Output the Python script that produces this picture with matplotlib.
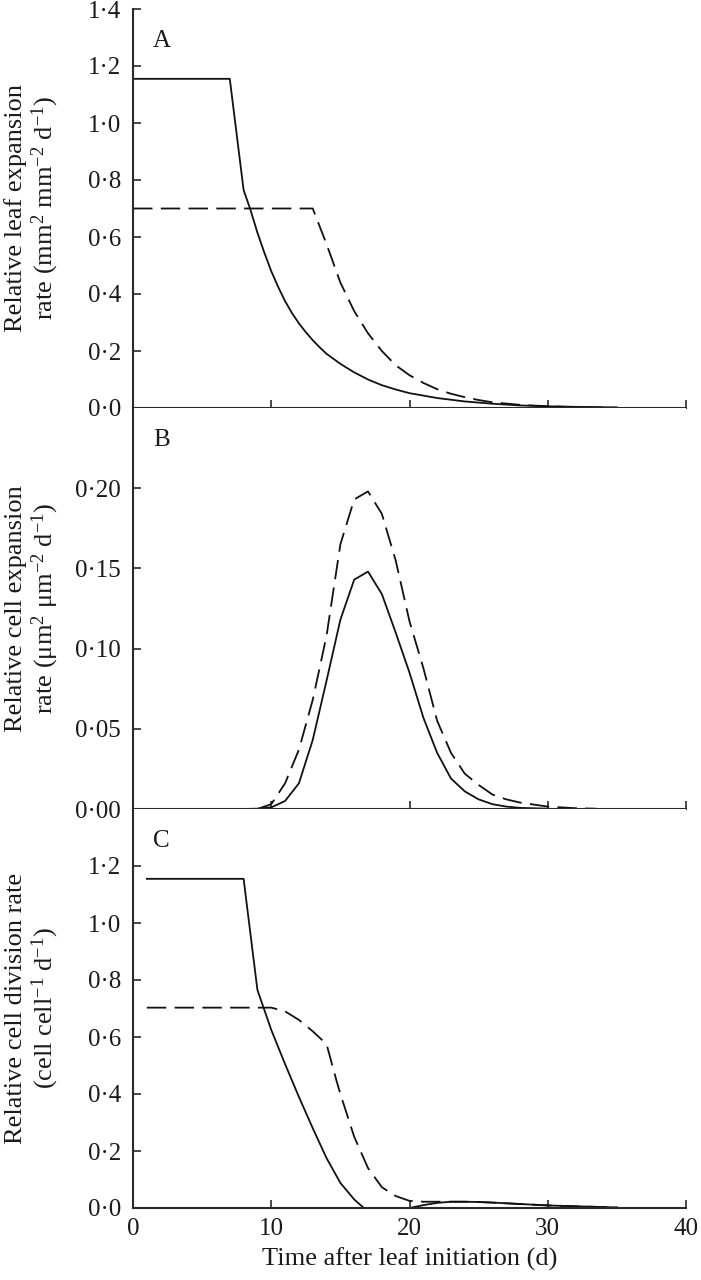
import matplotlib
matplotlib.use("Agg")
import matplotlib.pyplot as plt
from matplotlib.ticker import FuncFormatter

plt.rcParams['font.family'] = ['Liberation Serif', 'DejaVu Serif']
plt.rcParams['mathtext.fontset'] = 'custom'
plt.rcParams['mathtext.rm'] = 'Liberation Serif'
plt.rcParams['mathtext.it'] = 'Liberation Serif:italic'
plt.rcParams['mathtext.default'] = 'regular'
plt.rcParams['lines.scale_dashes'] = False

# ---- Panel A: relative leaf expansion rate ----
a_solid_x = [0, 7.0, 8.0, 8.5, 9, 9.5, 10, 10.5, 11, 11.5, 12, 12.5, 13, 13.5, 14, 15, 16, 17, 18,
             19, 20, 22, 24, 26, 28, 30, 32, 35]
a_solid_y = [1.155, 1.155, 0.765, 0.695, 0.615, 0.545, 0.48, 0.425, 0.375, 0.333, 0.297, 0.266,
             0.238, 0.213, 0.19, 0.155, 0.125, 0.10, 0.08, 0.065, 0.052, 0.035, 0.023, 0.015,
             0.009, 0.006, 0.004, 0.002]
a_dash_x = [0, 13.0, 14, 15, 16, 17, 18, 19, 20, 21, 22, 23, 24, 25, 26, 28, 30, 32, 35]
a_dash_y = [0.70, 0.70, 0.575, 0.44, 0.34, 0.262, 0.20, 0.15, 0.115, 0.088, 0.066, 0.05, 0.038,
            0.028, 0.02, 0.011, 0.006, 0.003, 0.001]

# ---- Panel B: relative cell expansion rate ----
b_solid_x = [1, 8, 9, 10, 11, 12, 13, 14, 15, 16, 17, 18, 19, 20, 21, 22, 23, 24, 25, 26, 27, 28, 30]
b_solid_y = [0, 0, 0.0002, 0.001, 0.005, 0.016, 0.043, 0.08, 0.118, 0.143, 0.148, 0.134, 0.11,
             0.085, 0.057, 0.035, 0.019, 0.011, 0.006, 0.003, 0.0015, 0.0007, 0.0002]
b_dash_x = [1, 9, 10, 11, 12, 13, 14, 15, 16, 17, 18, 19, 20, 21, 22, 23, 24, 25, 26, 27, 28, 30, 32, 33.5]
b_dash_y = [0, 0, 0.003, 0.016, 0.037, 0.068, 0.108, 0.165, 0.193, 0.198, 0.184, 0.155, 0.117,
            0.088, 0.055, 0.035, 0.022, 0.015, 0.009, 0.006, 0.004, 0.0015, 0.0005, 0.0002]

# ---- Panel C: relative cell division rate ----
c_solid_x = [1, 8.0, 9.0, 10, 11, 12, 13, 14, 15, 16, 16.7, 20, 21, 22, 23, 24, 25, 26, 28, 30, 32, 35]
c_solid_y = [1.155, 1.155, 0.765, 0.625, 0.505, 0.39, 0.28, 0.175, 0.088, 0.03, 0.0, 0.0, 0.01,
             0.018, 0.022, 0.022, 0.021, 0.019, 0.014, 0.009, 0.006, 0.002]
c_dash_x = [1, 10, 11, 12, 13, 14, 14.7, 15, 16, 17, 18, 19, 20, 21, 22, 23, 24, 25, 26, 28, 30, 32, 35]
c_dash_y = [0.703, 0.703, 0.69, 0.66, 0.62, 0.575, 0.45, 0.40, 0.25, 0.14, 0.073, 0.042, 0.025,
            0.022, 0.022, 0.022, 0.022, 0.021, 0.019, 0.014, 0.009, 0.006, 0.002]

x_ticks = [0, 10, 20, 30, 40]
a_yticks = [0.0, 0.2, 0.4, 0.6, 0.8, 1.0, 1.2, 1.4]
b_yticks = [0.0, 0.05, 0.10, 0.15, 0.20]
c_yticks = [0.0, 0.2, 0.4, 0.6, 0.8, 1.0, 1.2]

panel_letters = ['A', 'B', 'C']
ylabels = ['Relative leaf expansion\nrate (mm$^{2}$ mm$^{-2}$ d$^{-1}$)',
           'Relative cell expansion\nrate (\u03bcm$^{2}$ \u03bcm$^{-2}$ d$^{-1}$)',
           'Relative cell division rate\n(cell cell$^{-1}$ d$^{-1}$)']
xlabel = 'Time after leaf initiation (d)'

W, H = 701, 1280
fig = plt.figure(figsize=(W / 100, H / 100), dpi=100)

left = 133 / W
width = (686 - 133) / W
tops = [9, 408, 809]
bottoms = [408, 809, 1208]

spine_col = '#2a2a2a'
line_col = '#111111'
ax_lw = 1.5
fs_tick = 18
fs_lab = 19

series = [
    (a_solid_x, a_solid_y, a_dash_x, a_dash_y, (0, 1.4), a_yticks, 1),
    (b_solid_x, b_solid_y, b_dash_x, b_dash_y, (0, 0.25), b_yticks, 2),
    (c_solid_x, c_solid_y, c_dash_x, c_dash_y, (0, 1.4), c_yticks, 1),
]

for i, (sx, sy, dx, dy, ylim, yt, nd) in enumerate(series):
    b = (H - bottoms[i]) / H
    h = (bottoms[i] - tops[i]) / H
    ax = fig.add_axes([left, b, width, h])
    ax.plot(sx, sy, color=line_col, lw=1.3)
    ax.plot(dx, dy, color=line_col, lw=1.3, dashes=(14, 6))
    ax.set_xlim(0, 40)
    ax.set_ylim(*ylim)
    ax.set_xticks(x_ticks)
    ax.set_yticks(yt)
    ax.yaxis.set_major_formatter(FuncFormatter(lambda v, p, nd=nd: f"{v:.{nd}f}".replace('.', '\u00b7')))
    for s in ['top', 'right']:
        ax.spines[s].set_visible(False)
    for s in ['left', 'bottom']:
        ax.spines[s].set_color(spine_col)
        ax.spines[s].set_linewidth(ax_lw)
    ax.tick_params(axis='both', direction='in', length=6, width=1.2, color=spine_col,
                   labelsize=fs_tick, labelcolor='#1a1a1a')
    ax.tick_params(axis='y', pad=8.5)
    if i < 2:
        ax.tick_params(axis='x', labelbottom=False)
    else:
        ax.tick_params(axis='x', pad=7)
        ax.set_xlabel(xlabel, fontsize=fs_lab, color='#1a1a1a', labelpad=6)
    ax.set_ylabel(ylabels[i], fontsize=fs_lab, color='#1a1a1a', linespacing=1.1)
    ax.yaxis.set_label_coords((61 - 133) / (686 - 133), 0.5)
    ax.text(0.036, 0.92, panel_letters[i], transform=ax.transAxes, fontsize=fs_tick,
            ha='left', va='center', color='#1a1a1a')

fig.savefig('out.png', dpi=100)
